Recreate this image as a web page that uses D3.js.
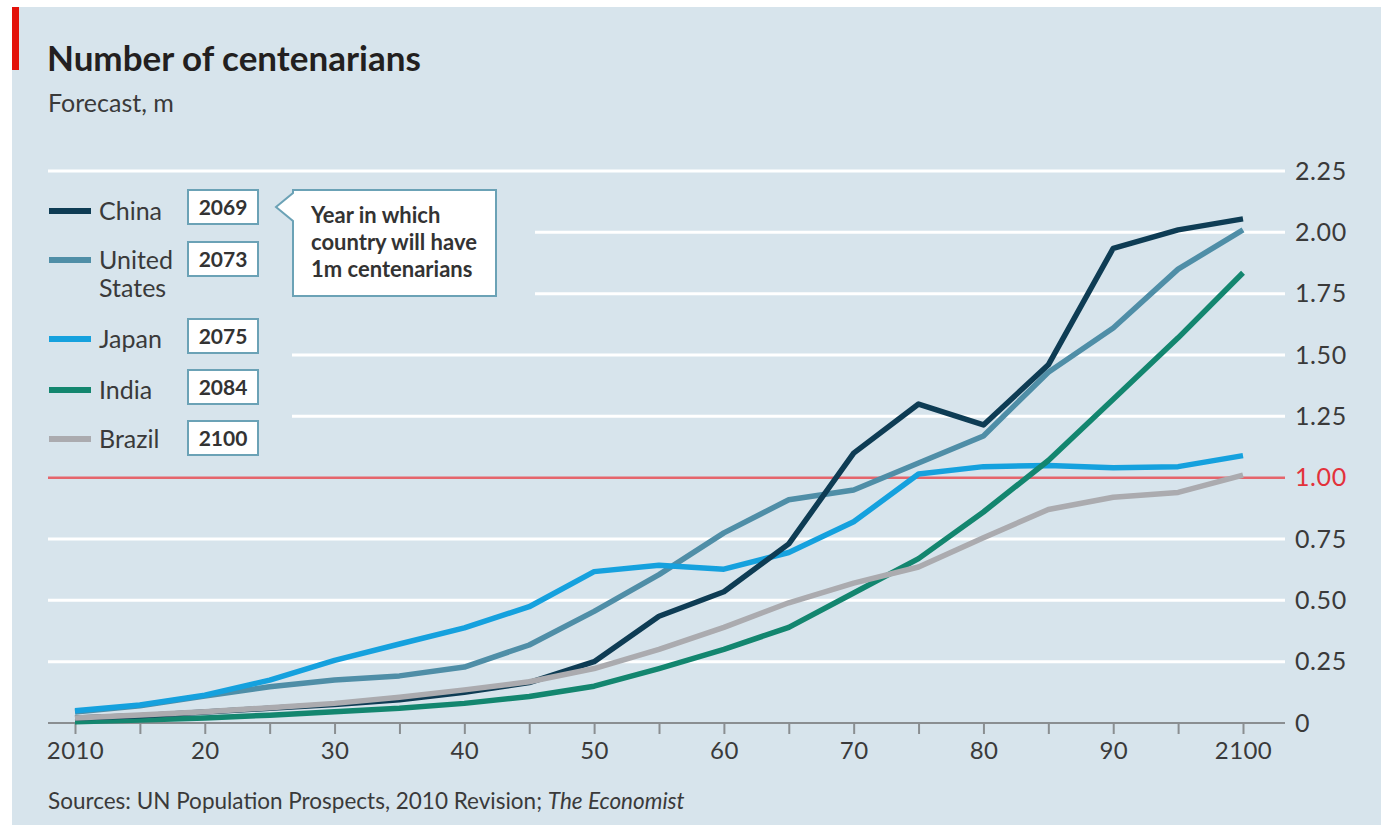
<!DOCTYPE html>
<html>
<head>
<meta charset="utf-8">
<script src="https://cdn.jsdelivr.net/npm/d3@7"></script>
<style>
  body { margin: 0; background: #fff; }
  svg text { font-family: Lato, "Open Sans", sans-serif; }
</style>
</head>
<body>
<svg></svg>
<script>
// data (millions of centenarians, every 5 years)
var years = [2010, 2015, 2020, 2025, 2030, 2035, 2040, 2045, 2050, 2055,
             2060, 2065, 2070, 2075, 2080, 2085, 2090, 2095, 2100];
var china  = [0.02, 0.03, 0.045, 0.06, 0.075, 0.095, 0.125, 0.165, 0.25, 0.435,
              0.535, 0.73, 1.10, 1.30, 1.215, 1.46, 1.935, 2.01, 2.055];
var usa    = [0.045, 0.07, 0.11, 0.148, 0.175, 0.192, 0.228, 0.318, 0.455, 0.605,
              0.775, 0.91, 0.95, 1.06, 1.17, 1.43, 1.61, 1.85, 2.01];
var japan  = [0.05, 0.073, 0.113, 0.175, 0.255, 0.322, 0.388, 0.474, 0.617, 0.643,
              0.627, 0.695, 0.82, 1.015, 1.045, 1.05, 1.04, 1.045, 1.09];
var india  = [0.005, 0.012, 0.02, 0.032, 0.046, 0.06, 0.08, 0.108, 0.15, 0.222,
              0.30, 0.39, 0.53, 0.67, 0.86, 1.07, 1.32, 1.57, 1.835];
var brazil = [0.02, 0.033, 0.046, 0.062, 0.08, 0.105, 0.135, 0.168, 0.222, 0.30,
              0.39, 0.49, 0.57, 0.636, 0.755, 0.87, 0.92, 0.94, 1.01];

var countries = ["China", "United States", "Japan", "India", "Brazil"];
var millionYear = ["2069", "2073", "2075", "2084", "2100"];
var colours = ["#0e3c54", "#4f8ea7", "#15a1de", "#13866f", "#ababaf"];

var yTicks = [0, 0.25, 0.5, 0.75, 1, 1.25, 1.5, 1.75, 2, 2.25];
var yTickLabels = ["0", "0.25", "0.50", "0.75", "1.00", "1.25", "1.50", "1.75", "2.00", "2.25"];
var xTicks = [2010, 2020, 2030, 2040, 2050, 2060, 2070, 2080, 2090, 2100];
var xTickLabels = ["2010", "20", "30", "40", "50", "60", "70", "80", "90", "2100"];

var W = 1381, H = 825;
var svg = d3.select("svg").attr("width", W).attr("height", H);

// panel
svg.append("rect").attr("x", 12).attr("y", 7).attr("width", W - 12).attr("height", H - 7)
   .attr("fill", "#d7e4ec");
svg.append("rect").attr("x", 12).attr("y", 7).attr("width", 7).attr("height", 63)
   .attr("fill", "#e3120b");

svg.append("text").attr("x", 47).attr("y", 71)
   .attr("font-size", 35).attr("font-weight", 700).attr("fill", "#231f20")
   .text("Number of centenarians");
svg.append("text").attr("x", 48).attr("y", 112)
   .attr("font-size", 25).attr("fill", "#3a3a3a")
   .text("Forecast, m");

var x = d3.scaleLinear().domain([2010, 2100]).range([75, 1243]);
var y = d3.scaleLinear().domain([0, 2.25]).range([723, 171]);

// gridlines stop short of the legend and the note
var gridStart = function(v) {
  if (v >= 1.75 && v < 2.25) return 535;
  if (v >= 1.25 && v < 1.75) return 292;
  return 48;
};

var grid = svg.append("g");
grid.selectAll("line").data(yTicks.filter(function(v) { return v > 0 && v !== 1; }))
  .enter().append("line")
    .attr("x1", gridStart).attr("x2", 1285)
    .attr("y1", function(d) { return y(d); }).attr("y2", function(d) { return y(d); })
    .attr("stroke", "#ffffff").attr("stroke-width", 3);

// right-hand axis labels
var yAxis = d3.axisRight(y).tickValues(yTicks).tickSize(0).tickPadding(0)
  .tickFormat(function(d, i) { return yTickLabels[i]; });
svg.append("g").attr("transform", "translate(1295,0)").call(yAxis)
  .call(function(g) {
    g.select(".domain").remove();
    g.selectAll("text").attr("font-size", 25).attr("letter-spacing", 0.6)
      .attr("fill", function(d) { return d === 1 ? "#e3323b" : "#3a3a3a"; });
  });

// x axis with minor ticks every 5 years
var xAxis = d3.axisBottom(x).tickValues(years).tickSize(11).tickPadding(8)
  .tickFormat(function(d) { var i = xTicks.indexOf(d); return i < 0 ? "" : xTickLabels[i]; });
svg.append("g").attr("transform", "translate(0,723)").call(xAxis)
  .call(function(g) {
    g.select(".domain").attr("d", "M48,0H1285").attr("stroke", "#8a8e91").attr("stroke-width", 2);
    g.selectAll(".tick line").attr("stroke", "#8a8e91").attr("stroke-width", 2);
    g.selectAll("text").attr("font-size", 24).attr("letter-spacing", 0.4).attr("fill", "#3a3a3a");
  });

// 1m reference line
svg.append("line").attr("x1", 48).attr("x2", 1285).attr("y1", y(1)).attr("y2", y(1))
   .attr("stroke", "#e5656c").attr("stroke-width", 2.5);

var series = [usa, japan, india, china, brazil];
var seriesColour = [colours[1], colours[2], colours[3], colours[0], colours[4]];
var line = d3.line().x(function(d, i) { return x(years[i]); }).y(function(d) { return y(d); });

svg.append("g").selectAll("path").data(series).enter().append("path")
  .attr("d", line).attr("fill", "none")
  .attr("stroke", function(d, i) { return seriesColour[i]; })
  .attr("stroke-width", 5.5).attr("stroke-linejoin", "round");

// legend
var rowY = [211, 260, 339, 390, 439];
var boxY = [207, 259, 336, 387, 438];
var legend = svg.append("g");
countries.forEach(function(c, i) {
  legend.append("line").attr("x1", 49).attr("x2", 91).attr("y1", rowY[i]).attr("y2", rowY[i])
    .attr("stroke", colours[i]).attr("stroke-width", 6);
  var t = legend.append("text").attr("x", 99).attr("y", rowY[i]).attr("dy", "0.35em")
    .attr("font-size", 25).attr("fill", "#3a3a3a");
  if (c === "United States") {
    t.append("tspan").attr("x", 99).text("United");
    t.append("tspan").attr("x", 99).attr("dy", 28).text("States");
  } else {
    t.text(c);
  }
  legend.append("rect").attr("x", 188).attr("y", boxY[i] - 17).attr("width", 70).attr("height", 34)
    .attr("fill", "#fff").attr("stroke", "#6ba2b6").attr("stroke-width", 2);
  legend.append("text").attr("x", 223).attr("y", boxY[i]).attr("dy", "0.36em")
    .attr("text-anchor", "middle").attr("font-size", 21).attr("font-weight", 700)
    .attr("fill", "#333").text(millionYear[i]);
});

// callout
svg.append("path")
  .attr("d", "M293,190H496V296H293V221L276,207L293,193Z")
  .attr("fill", "#fff").attr("stroke", "#6ba2b6").attr("stroke-width", 2);
var note = svg.append("text").attr("x", 311).attr("y", 223)
  .attr("font-size", 22).attr("font-weight", 700).attr("fill", "#333");
["Year in which", "country will have", "1m centenarians"].forEach(function(s, i) {
  note.append("tspan").attr("x", 311).attr("dy", i === 0 ? 0 : 27).text(s);
});

// source
var src = svg.append("text").attr("x", 48).attr("y", 809)
  .attr("font-size", 22.5).attr("fill", "#3a3a3a");
src.append("tspan").text("Sources: UN Population Prospects, 2010 Revision; ");
src.append("tspan").attr("font-style", "italic").text("The Economist");
</script>
</body>
</html>
